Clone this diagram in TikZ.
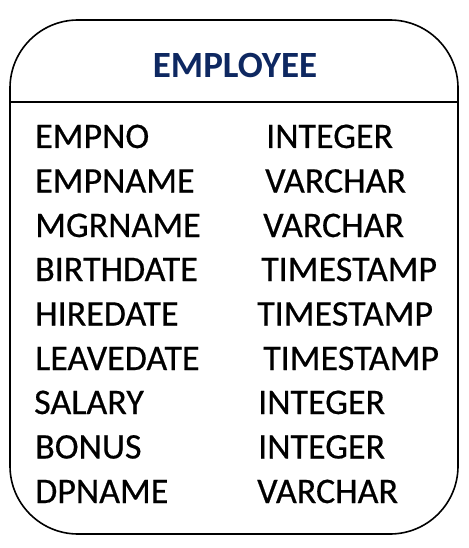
\documentclass[tikz,border=0pt]{standalone}
\usepackage{fontspec}
\setmainfont{Carlito}
\newfontfamily\bodyfont[FakeBold=0.5]{Carlito}
\definecolor{navy}{RGB}{14,40,97}
\tikzset{
  field/.style={anchor=base west, inner sep=0pt, font=\bodyfont\fontsize{36}{42}\selectfont},
  title/.style={anchor=base, inner sep=0pt, font=\fontsize{37}{44}\selectfont\bfseries, text=navy},
  frame/.style={draw=black, line width=1.6pt, rounded corners=68pt}
}
\begin{document}
\begin{tikzpicture}[x=1pt,y=-1pt]
\useasboundingbox (0,0) rectangle (468,548);
\draw[frame] (10,20) rectangle (458,534);
\coordinate (dl) at (10,102);
\coordinate (dr) at (458,102);
\draw[line width=1.2pt] (dl) -- (dr);
\node[title] (t) at (235,78) {EMPLOYEE};
\node[field] (n1) at (35,148) {EMPNO};
\node[field] (t1) at (266,148) {INTEGER};
\node[field] (n2) at (35,192.5) {EMPNAME};
\node[field] (t2) at (265,192.5) {VARCHAR};
\node[field] (n3) at (35,237) {MGRNAME};
\node[field] (t3) at (263,237) {VARCHAR};
\node[field] (n4) at (35,281) {BIRTHDATE};
\node[field] (t4) at (261,281) {TIMESTAMP};
\node[field] (n5) at (35,325.5) {HIREDATE};
\node[field] (t5) at (257,325.5) {TIMESTAMP};
\node[field] (n6) at (35,370) {LEAVEDATE};
\node[field] (t6) at (263,370) {TIMESTAMP};
\node[field] (n7) at (34,414) {SALARY};
\node[field] (t7) at (258,414) {INTEGER};
\node[field] (n8) at (35,458.5) {BONUS};
\node[field] (t8) at (258,458.5) {INTEGER};
\node[field] (n9) at (35,503) {DPNAME};
\node[field] (t9) at (257,503) {VARCHAR};
\end{tikzpicture}
\end{document}
